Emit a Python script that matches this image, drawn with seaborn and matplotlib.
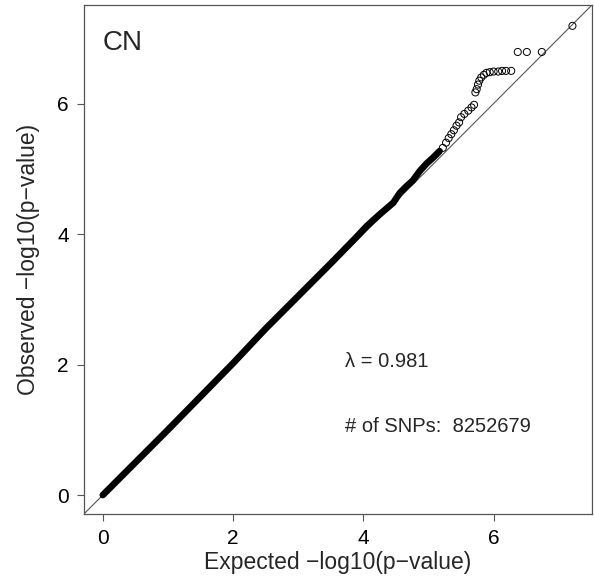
import matplotlib
matplotlib.use("Agg")
import matplotlib.pyplot as plt
import seaborn as sns
import pandas as pd

# Bulk of the QQ curve (dense region), expected vs observed -log10(p)
bulk_expected = [0.0, 1.0, 2.0, 2.5, 3.0, 3.5, 3.9, 4.05, 4.25, 4.46, 4.56, 4.66, 4.76, 4.87, 4.97, 5.07, 5.17]
bulk_observed = [0.0, 1.0, 2.02, 2.55, 3.05, 3.55, 3.96, 4.12, 4.30, 4.48, 4.63, 4.73, 4.82, 4.97, 5.08, 5.17, 5.27]

# Sparse upper tail, drawn as individual open circles
tail_expected = [5.22, 5.27, 5.31, 5.35, 5.39, 5.43, 5.47, 5.50, 5.55, 5.61, 5.66, 5.70,
                 5.72, 5.74, 5.76, 5.78, 5.81, 5.85, 5.89, 5.94, 6.00, 6.07, 6.13, 6.19, 6.27,
                 6.37, 6.51, 6.74, 7.21]
tail_observed = [5.32, 5.40, 5.47, 5.53, 5.59, 5.66, 5.71, 5.79, 5.84, 5.89, 5.94, 5.98,
                 6.17, 6.22, 6.29, 6.35, 6.40, 6.44, 6.47, 6.48, 6.49, 6.49, 6.50, 6.50, 6.50,
                 6.79, 6.79, 6.79, 7.19]

ticks = [0, 2, 4, 6]
panel_label = "CN"
lambda_text = "λ = 0.981"
snp_text = "# of SNPs:  8252679"

sns.set_theme(style="white")
plt.rcParams["font.family"] = ["Liberation Sans", "DejaVu Sans"]

bulk = pd.DataFrame({"expected": bulk_expected, "observed": bulk_observed})
tail = pd.DataFrame({"expected": tail_expected, "observed": tail_observed})

fig = plt.figure(figsize=(5.94, 5.85), dpi=100)
ax = fig.add_axes([0.1414, 0.1214, 0.8552, 0.8701])

ax.axline((0, 0), slope=1, color="#555555", lw=0.8, zorder=1)

sns.lineplot(data=bulk, x="expected", y="observed", ax=ax, color="black",
             lw=4.8, solid_capstyle="round", solid_joinstyle="round", sort=False, zorder=3)
sns.scatterplot(data=tail, x="expected", y="observed", ax=ax, s=26,
                facecolors="none", edgecolor="black", linewidth=0.7, zorder=4)

ax.set_xlim(-0.289, 7.51)
ax.set_ylim(-0.29, 7.51)
ax.set_xticks(ticks)
ax.set_yticks(ticks)
ax.set_xticklabels([str(t) for t in ticks])
ax.set_yticklabels([str(t) for t in ticks])
ax.tick_params(axis="both", which="major", length=5, width=0.8, color="#555555",
               labelsize=15, labelcolor="black", pad=6, direction="out",
               bottom=True, left=True)

for s in ax.spines.values():
    s.set_visible(True)
    s.set_color("#555555")
    s.set_linewidth(0.9)

ax.set_xlabel("Expected \u2212log10(p\u2212value)", fontsize=16.5, labelpad=2)
ax.set_ylabel("Observed \u2212log10(p\u2212value)", fontsize=16.5, labelpad=12)

ax.text(0.0, 6.93, panel_label, fontsize=20, ha="left", va="center")
ax.text(3.72, 2.04, lambda_text, fontsize=14.5, ha="left", va="center")
ax.text(3.72, 1.05, snp_text, fontsize=14.5, ha="left", va="center")

fig.savefig("out.png", dpi=100)
